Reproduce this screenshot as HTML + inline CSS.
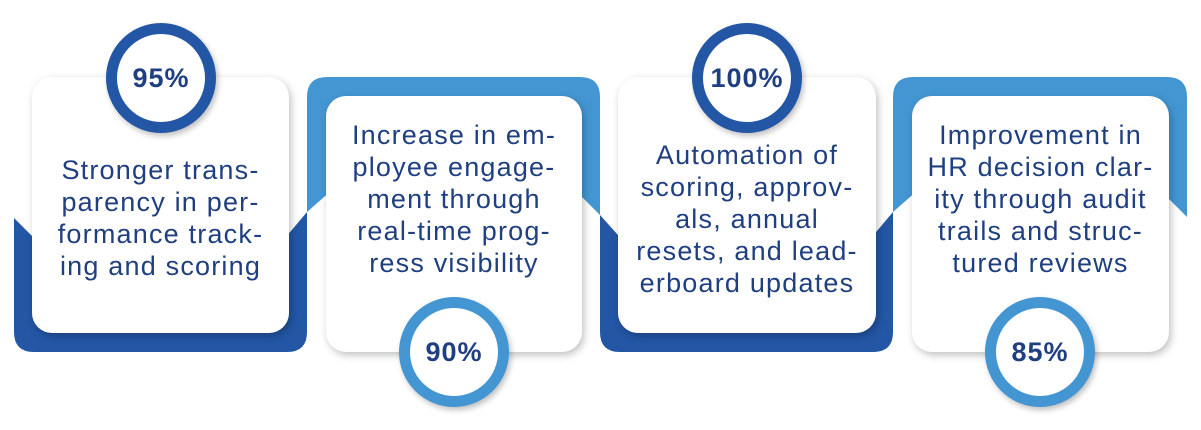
<!DOCTYPE html>
<html><head><meta charset="utf-8"><style>
body{margin:0;width:1201px;height:430px;background:#fff;position:relative;overflow:hidden;font-family:"Liberation Sans",sans-serif}
svg{position:absolute;left:0;top:0}
.card{position:absolute;background:#fff;border-radius:20px;box-shadow:2px 3px 8px rgba(0,0,0,.25);display:flex;flex-direction:column;align-items:center;color:#1f3f80;font-size:27px;letter-spacing:1.2px;line-height:32px;text-align:center;white-space:nowrap}
.c{position:absolute;width:110px;height:110px;border-radius:50%;box-sizing:border-box;border:11px solid;background:#fff;display:flex;align-items:center;justify-content:center;font-weight:bold;font-size:27px;letter-spacing:1px;color:#1f3f80;box-shadow:2px 3px 6px rgba(0,0,0,.25)}
.d{border-color:#2356a5}.l{border-color:#4396d2}
</style></head><body>
<svg width="1201" height="430">
<path fill="#2356a5" d="M14,218 L40,244 L280,244 L307,212 L307,332 Q307,352 287,352 L34,352 Q14,352 14,332 Z"/>
<path fill="#4396d2" d="M307,212 L307,97 Q307,77 327,77 L580,77 Q600,77 600,97 L600,215 L575,190 L332,190 Z"/>
<path fill="#2356a5" d="M600,215 L626,244 L866,244 L893,212 L893,332 Q893,352 873,352 L620,352 Q600,352 600,332 Z"/>
<path fill="#4396d2" d="M893,212 L893,97 Q893,77 913,77 L1167,77 Q1187,77 1187,97 L1187,217 L1160,190 L918,190 Z"/>
</svg>
<div class="card" style="left:32px;top:77px;width:257px;height:256px"><div style="margin-top:77px">Stronger trans-<br>parency in per-<br>formance track-<br>ing and scoring</div></div>
<div class="card" style="left:326px;top:96px;width:256px;height:256px"><div style="margin-top:23px">Increase in em-<br>ployee engage-<br>ment through<br>real-time prog-<br>ress visibility</div></div>
<div class="card" style="left:618px;top:77px;width:258px;height:256px"><div style="margin-top:62px">Automation of<br>scoring, approv-<br>als, annual<br>resets, and lead-<br>erboard updates</div></div>
<div class="card" style="left:912px;top:96px;width:257px;height:256px"><div style="margin-top:23px">Improvement in<br>HR decision clar-<br>ity through audit<br>trails and struc-<br>tured reviews</div></div>
<div class="c d" style="left:106px;top:23px">95%</div>
<div class="c l" style="left:399px;top:297px">90%</div>
<div class="c d" style="left:692px;top:23px">100%</div>
<div class="c l" style="left:985px;top:297px">85%</div>
</body></html>
